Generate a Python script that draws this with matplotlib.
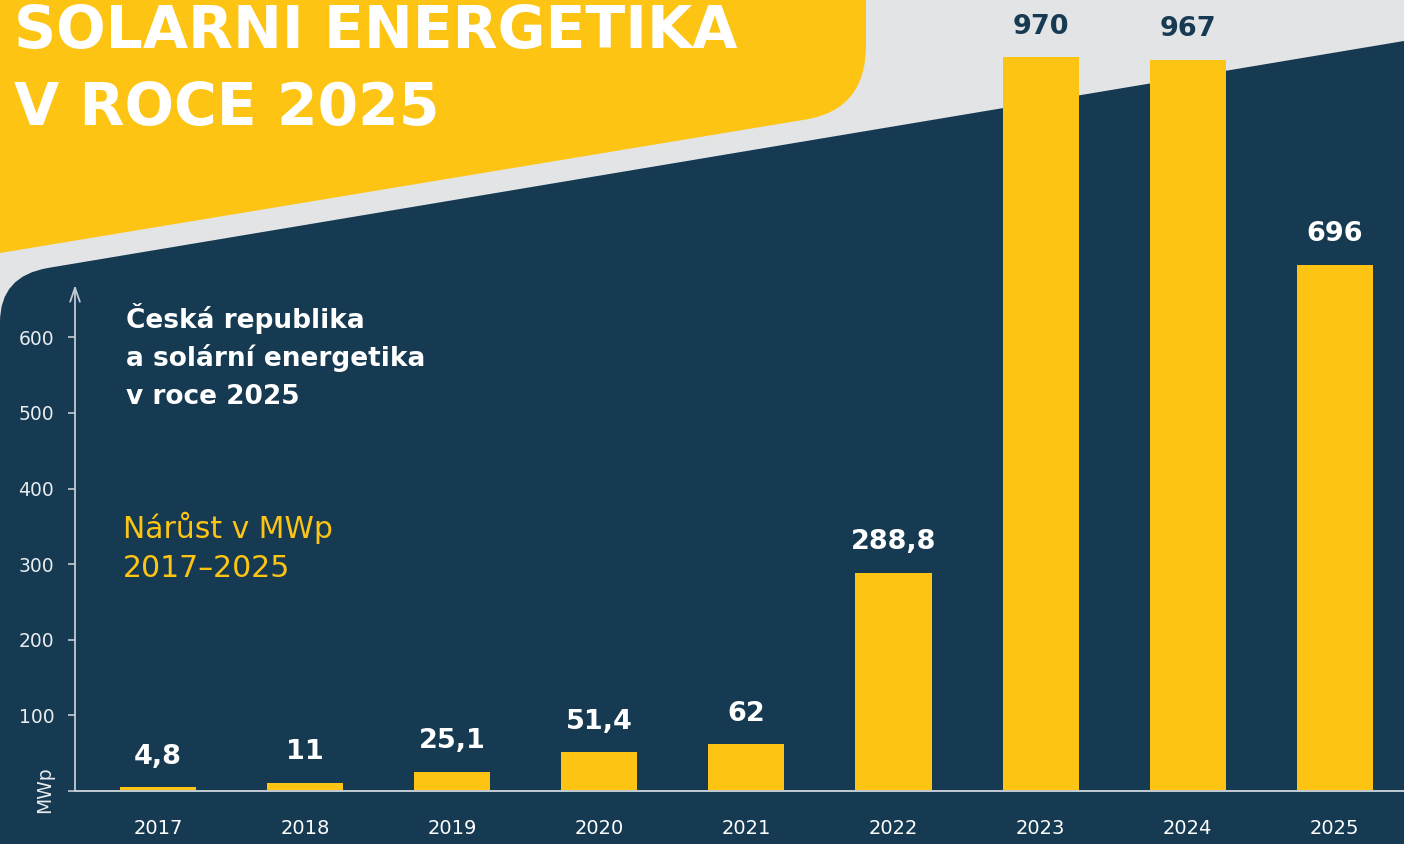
"""Solar growth in Czechia 2017-2025: yellow bars on a navy slanted panel."""

import matplotlib
matplotlib.use("Agg")
import matplotlib.pyplot as plt
from matplotlib.path import Path as MPath
from matplotlib.patches import PathPatch

# --------------------------------------------------------------------------- #
# Data
# --------------------------------------------------------------------------- #
YEARS = ["2017", "2018", "2019", "2020", "2021", "2022", "2023", "2024", "2025"]
GROWTH_MWP = [4.8, 11, 25.1, 51.4, 62, 288.8, 970, 967, 696]
VALUE_LABELS = ["4,8", "11", "25,1", "51,4", "62", "288,8", "970", "967", "696"]
Y_TICKS = [0, 100, 200, 300, 400, 500, 600]
Y_TICK_LABELS = ["", "100", "200", "300", "400", "500", "600"]
# labels that sit on the grey band rather than on the navy panel
ON_GREY = {"2023", "2024"}

TITLE_LINES = ["SOLARNI ENERGETIKA", "V ROCE 2025"]
INFO_LINES = ["Česká republika", "a solární energetika", "v roce 2025"]
SUB_LINES = ["Nárůst v MWp", "2017–2025"]

YELLOW = "#fdc414"
NAVY = "#163a51"
GREY = "#e3e4e6"
AXIS_C = "#c3ccd4"
LIGHT = "#e8ecef"

W, H = 1404, 844
plt.rcParams["font.family"] = ["DejaVu Sans"]

fig = plt.figure(figsize=(W / 100, H / 100), dpi=100, facecolor=GREY)

# --------------------------------------------------------------------------- #
# Background shapes, drawn in pixel coordinates (y grows downward)
# --------------------------------------------------------------------------- #
bg = fig.add_axes([0, 0, 1, 1], zorder=0)
bg.set_xlim(0, W)
bg.set_ylim(H, 0)
bg.axis("off")


def yellow_edge(x):
    return 253 - 0.1657 * x


def navy_edge(x):
    return 276 - 0.1674 * x


yellow_path = MPath(
    [(0, 0), (866, 0), (866, 45), (866, yellow_edge(866)), (806, yellow_edge(806)),
     (0, yellow_edge(0)), (0, 0)],
    [MPath.MOVETO, MPath.LINETO, MPath.LINETO, MPath.CURVE3, MPath.CURVE3,
     MPath.LINETO, MPath.CLOSEPOLY],
)
navy_path = MPath(
    [(0, H), (0, 322), (0, navy_edge(0)), (48, navy_edge(48)), (W, navy_edge(W)),
     (W, H), (0, H)],
    [MPath.MOVETO, MPath.LINETO, MPath.CURVE3, MPath.CURVE3, MPath.LINETO,
     MPath.LINETO, MPath.CLOSEPOLY],
)
bg.add_patch(PathPatch(yellow_path, facecolor=YELLOW, edgecolor="none"))
bg.add_patch(PathPatch(navy_path, facecolor=NAVY, edgecolor="none"))

for i, line in enumerate(TITLE_LINES):
    bg.text(14, 48 + 77 * i, line, color="white", fontsize=42, fontweight="bold",
            va="baseline", ha="left")

for i, line in enumerate(INFO_LINES):
    bg.text(126, 328 + 38 * i, line, color="white", fontsize=19, fontweight="bold",
            va="baseline", ha="left")

for i, line in enumerate(SUB_LINES):
    bg.text(123, 538 + 39 * i, line, color=YELLOW, fontsize=21.5,
            va="baseline", ha="left")

bg.text(45, 790, "MWp", color=LIGHT, fontsize=13.5, rotation=90,
        ha="center", va="center")

# --------------------------------------------------------------------------- #
# Bar chart
# --------------------------------------------------------------------------- #
ax_left, ax_base = 75, 791
ax = fig.add_axes([ax_left / W, (H - ax_base) / H, (W - ax_left) / W, ax_base / H],
                  zorder=1)
ax.patch.set_alpha(0)

x = list(range(len(YEARS)))
ax.bar(x, GROWTH_MWP, width=0.517, color=YELLOW, zorder=2)
ax.set_xlim(-0.564, 8.47)
ax.set_ylim(0, 1046)

for xi, year, v, lab in zip(x, YEARS, GROWTH_MWP, VALUE_LABELS):
    ax.annotate(lab, (xi, v), xytext=(0, 17), textcoords="offset points",
                ha="center", va="baseline", fontsize=19.5, fontweight="bold",
                color=NAVY if year in ON_GREY else "white", zorder=3)

for side in ("top", "right", "left"):
    ax.spines[side].set_visible(False)
ax.spines["bottom"].set_color(AXIS_C)
ax.spines["bottom"].set_linewidth(1.4)

# y axis drawn as an arrow
ax.annotate("", xy=(0, 669), xycoords=("axes fraction", "data"),
            xytext=(0, 0), textcoords=("axes fraction", "data"),
            arrowprops=dict(arrowstyle="->,head_length=1.0,head_width=0.35",
                            color=AXIS_C, lw=1.3, shrinkA=0, shrinkB=0))

ax.set_yticks(Y_TICKS)
ax.set_yticklabels(Y_TICK_LABELS)
ax.tick_params(axis="y", direction="out", length=5, width=1.2, color=AXIS_C,
               labelcolor=LIGHT, labelsize=13.5, pad=10)
ax.set_xticks(x)
ax.set_xticklabels(YEARS)
ax.tick_params(axis="x", length=0, labelcolor="white", labelsize=14, pad=20)

fig.savefig("out.png", dpi=100, facecolor=GREY)
